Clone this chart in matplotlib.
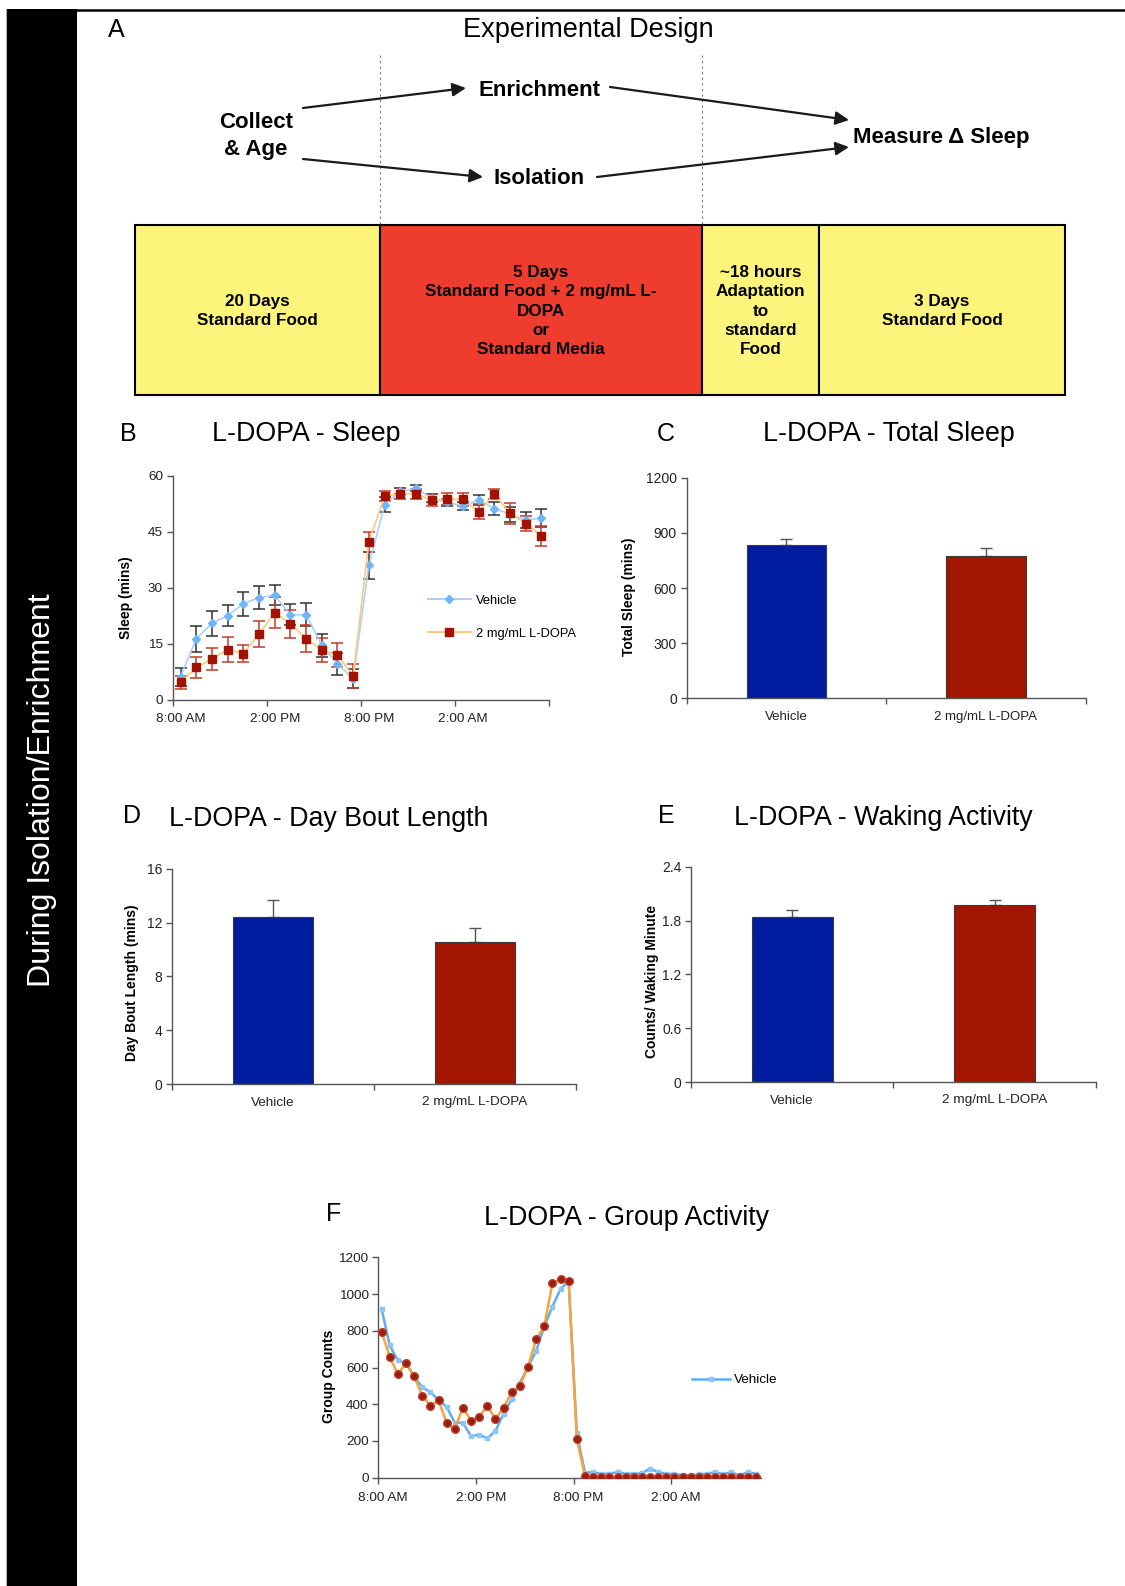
import numpy as np
import matplotlib
matplotlib.use('Agg')
import matplotlib.pyplot as plt
from matplotlib.patches import Rectangle
from matplotlib.lines import Line2D
from matplotlib.transforms import ScaledTranslation

plt.rcParams['font.family'] = ['Liberation Sans', 'DejaVu Sans']

W, H = 1125, 1586  # figure size in pixels

# ---- Panel A: experimental design ----
stage_labels = ['20 Days\nStandard Food',
                '5 Days\nStandard Food + 2 mg/mL L-\nDOPA\nor\nStandard Media',
                '~18 hours\nAdaptation\nto\nstandard\nFood',
                '3 Days\nStandard Food']
stage_colors = ['#fdf57b', '#ee3d2f', '#fdf57b', '#fdf57b']

# ---- Panel B: sleep per hour (mins) ----
time_labels = ['8:00 AM', '2:00 PM', '8:00 PM', '2:00 AM']
sleep_vehicle = [6.2, 16.4, 20.5, 22.6, 25.7, 27.4, 28.0, 22.8, 22.8, 14.6, 9.7, 5.7,
                 36.0, 52.2, 55.8, 56.6, 54.0, 52.9, 51.9, 53.5, 51.2, 49.7, 48.1, 48.7]
sleep_vehicle_err = [2.4, 3.5, 3.4, 2.9, 3.1, 3.1, 2.7, 2.8, 3.1, 3.0, 2.9, 2.5,
                     3.7, 2.0, 0.8, 0.8, 1.0, 1.0, 1.0, 1.4, 1.8, 2.0, 2.2, 2.4]
sleep_ldopa = [4.7, 8.7, 11.0, 13.5, 12.4, 17.6, 23.4, 20.4, 16.4, 13.4, 12.0, 6.4,
               42.3, 54.5, 55.2, 55.2, 53.5, 53.7, 53.7, 50.3, 55.1, 49.9, 47.2, 43.9]
sleep_ldopa_err = [1.8, 2.9, 3.0, 3.4, 2.3, 3.5, 4.1, 3.7, 3.6, 3.3, 3.2, 3.1,
                   2.7, 1.3, 1.5, 1.3, 1.6, 1.6, 1.7, 2.0, 1.4, 2.7, 1.9, 2.6]

# ---- Panels C, D, E: group means ----
groups = ['Vehicle', '2 mg/mL L-DOPA']
total_sleep = [834, 776]
total_sleep_err = [34, 42]
bout_length = [12.41, 10.58]
bout_length_err = [1.26, 0.99]
waking_activity = [1.84, 1.97]
waking_activity_err = [0.074, 0.063]

# ---- Panel F: group activity, half-hour bins ----
group_vehicle = [921, 720, 639, 624, 552, 492, 467, 422, 386, 299, 299, 226, 235, 214, 255,
                 349, 427, 516, 603, 690, 824, 932, 1028, 1068, 241,
                 28, 30, 22, 22, 30, 22, 22, 24, 50, 30, 22, 20, 14, 12, 18, 22, 30, 20,
                 30, 12, 30, 22]
group_ldopa = [796, 659, 563, 624, 552, 447, 393, 422, 299, 266, 382, 310, 331, 391, 319,
               382, 467, 500, 603, 753, 825, 1059, 1081, 1070, 212,
               8, 4, 3, 2, 3, 2, 3, 4, 2, 3, 3, 2, 2, 3, 2, 3, 4, 2, 3, 2, 3, 2]

BLUE = '#001c9f'
RED = '#a21500'

fig = plt.figure(figsize=(W / 100, H / 100), dpi=100)

# overlay in pixel coordinates for the schematic and free text
ov = fig.add_axes([0, 0, 1, 1], zorder=-1)
ov.set_xlim(0, W)
ov.set_ylim(H, 0)
ov.axis('off')


def axes_px(left, top, right, bottom):
    return fig.add_axes([left / W, 1 - bottom / H, (right - left) / W, (bottom - top) / H])


def style(ax, tick_size):
    for s in ['top', 'right']:
        ax.spines[s].set_visible(False)
    for s in ['left', 'bottom']:
        ax.spines[s].set_color('#555555')
        ax.spines[s].set_linewidth(1)
    ax.tick_params(which='both', direction='out', length=4, width=1, color='#555555',
                   labelsize=tick_size, labelcolor='#222222', pad=3)


def ylabel_px(ax, text, cx, cy):
    ax.set_ylabel(text, fontsize=10, fontweight='bold', va='center')
    bb = ax.get_position()
    ax.yaxis.set_label_coords((cx / W - bb.x0) / bb.width, ((1 - cy / H) - bb.y0) / bb.height)


def shift_xlabels(ax, px):
    off = ScaledTranslation(px / 100, 0, fig.dpi_scale_trans)
    for lbl in ax.get_xticklabels():
        lbl.set_transform(lbl.get_transform() + off)


def bar_panel(ax, vals, errs, ymax, step, ytick_size, xtick_size):
    ax.bar([0, 1], vals, width=0.4, color=[BLUE, RED], edgecolor='#3a3a3a', linewidth=0.8, zorder=2)
    ax.errorbar([0, 1], vals, yerr=[[0, 0], errs], fmt='none', ecolor='#555555',
                elinewidth=1, capsize=4.3, capthick=1, zorder=1)
    style(ax, ytick_size)
    ax.set_xlim(-0.5, 1.5)
    ax.set_ylim(0, ymax)
    ax.set_yticks(np.arange(0, ymax + step / 2, step))
    ax.set_xticks([-0.5, 0.5, 1.5])
    ax.set_xticklabels([])
    ax.set_xticks([0, 1], minor=True)
    ax.set_xticklabels(groups, minor=True)
    ax.tick_params(axis='x', which='minor', length=0, labelsize=xtick_size, pad=9)


# ---- left banner ----
ov.add_patch(Rectangle((7, 9), 70, H - 9, fc='black', ec='none'))
ov.plot([6, 6], [9, H], color='#aaaaaa', lw=0.8)
ov.plot([77, W], [9.5, 9.5], color='black', lw=1.8)
ov.text(42, 790, 'During Isolation/Enrichment', color='white', fontsize=23,
        rotation=90, ha='center', va='center')

# ---- Panel A ----
ov.text(116, 30, 'A', fontsize=18, ha='center', va='center')
ov.text(588, 30, 'Experimental Design', fontsize=19.5, ha='center', va='center')

for x in [380, 702]:
    ov.plot([x, x], [55, 225], color='#777777', lw=0.8, ls=(0, (2, 3)))

edges = [135, 380, 702, 819, 1065]
for i, (lab, col) in enumerate(zip(stage_labels, stage_colors)):
    ov.add_patch(Rectangle((edges[i], 225), edges[i + 1] - edges[i], 170,
                           fc=col, ec='black', lw=1.5))
    ov.text((edges[i] + edges[i + 1]) / 2, 311, lab, fontsize=12.3, fontweight='bold',
            ha='center', va='center', linespacing=1.35)

ov.text(256, 136, 'Collect\n& Age', fontsize=16, fontweight='bold', ha='center', va='center',
        linespacing=1.35)
ov.text(539, 91, 'Enrichment', fontsize=16, fontweight='bold', ha='center', va='center')
ov.text(539, 179, 'Isolation', fontsize=16, fontweight='bold', ha='center', va='center')
ov.text(941, 138, 'Measure \u0394 Sleep', fontsize=16, fontweight='bold', ha='center', va='center')

arrows = [((303, 108), (466, 88)), ((303, 159), (483, 177)),
          ((610, 87), (849, 120)), ((597, 177), (849, 147))]
for start, end in arrows:
    ov.annotate('', xy=end, xytext=start,
                arrowprops=dict(arrowstyle='-|>', color='#1a1a1a', lw=1.6,
                                mutation_scale=20, shrinkA=0, shrinkB=0))

# ---- Panel B ----
axB = axes_px(172.7, 475.7, 549.3, 700)
style(axB, 9.7)
x_b = np.arange(24) + 0.5
axB.errorbar(x_b, sleep_vehicle, yerr=sleep_vehicle_err, color='#a9d3fc', lw=1.2,
             marker='D', ms=4.5, mfc='#6fb5f7', mec='#6fb5f7', ecolor='#333333',
             elinewidth=1.1, capsize=4.3, capthick=1.1, zorder=3)
axB.errorbar(x_b, sleep_ldopa, yerr=sleep_ldopa_err, color='#ffc97e', lw=1.2,
             marker='s', ms=6, mfc='#a21200', mec='#a21200', ecolor='#c23a2a',
             elinewidth=1.1, capsize=4.3, capthick=1.1, zorder=3)
axB.set_xlim(0, 24)
axB.set_ylim(0, 60)
axB.set_yticks(range(0, 61, 15))
axB.set_xticks([0, 6, 12, 18, 24])
axB.set_xticklabels(time_labels + [''])
axB.tick_params(axis='x', pad=5)
shift_xlabels(axB, 8)
ylabel_px(axB, 'Sleep (mins)', 126, 598)
hB = [Line2D([], [], color='#a9d3fc', lw=1.5, marker='D', ms=4.5, mfc='#6fb5f7', mec='#6fb5f7'),
      Line2D([], [], color='#ffc97e', lw=1.5, marker='s', ms=6, mfc='#a21200', mec='#a21200')]
axB.legend(hB, groups, loc='upper left', bbox_to_anchor=(0.678, 0.47), frameon=False,
           fontsize=9.3, handlelength=3.3, handletextpad=0.4, labelspacing=1.65,
           borderpad=0, borderaxespad=0)
ov.text(128, 434, 'B', fontsize=18, ha='center', va='center')
ov.text(306, 434, 'L-DOPA - Sleep', fontsize=19.3, ha='center', va='center')

# ---- Panel C ----
axC = axes_px(686.7, 477.7, 1085.7, 698.3)
bar_panel(axC, total_sleep, total_sleep_err, 1200, 300, 10, 9.5)
ylabel_px(axC, 'Total Sleep (mins)', 629, 597)
ov.text(666, 434, 'C', fontsize=18, ha='center', va='center')
ov.text(889, 434, 'L-DOPA - Total Sleep', fontsize=19.3, ha='center', va='center')

# ---- Panel D ----
axD = axes_px(172.3, 868.7, 575.7, 1084)
bar_panel(axD, bout_length, bout_length_err, 16, 4, 10, 9.7)
ylabel_px(axD, 'Day Bout Length (mins)', 131.7, 983)
ov.text(132, 816, 'D', fontsize=18, ha='center', va='center')
ov.text(329, 819, 'L-DOPA - Day Bout Length', fontsize=19.3, ha='center', va='center')

# ---- Panel E ----
axE = axes_px(691, 866.7, 1095.7, 1082)
bar_panel(axE, waking_activity, waking_activity_err, 2.4, 0.6, 10, 9.7)
axE.set_yticklabels(['0', '0.6', '1.2', '1.8', '2.4'])
ylabel_px(axE, 'Counts/ Waking Minute', 651.7, 981.7)
ov.text(666, 816, 'E', fontsize=18, ha='center', va='center')
ov.text(883, 818, 'L-DOPA - Waking Activity', fontsize=19.3, ha='center', va='center')

# ---- Panel F ----
axF = axes_px(378.3, 1257.3, 760.7, 1477.7)
style(axF, 9.7)
x_f = np.arange(len(group_vehicle)) * 0.5 + 0.2
axF.plot(x_f, group_vehicle, color='#5eaef4', lw=1.8, marker='s', ms=2.8,
         mfc='#8cc6f7', mec='#8cc6f7', zorder=2)
axF.plot(x_f, group_ldopa, color='#f8a33c', lw=1.8, marker='o', ms=5.5,
         mfc='#9e1c0c', mec='#b8402a', zorder=3)
axF.set_xlim(0, 23.5)
axF.set_ylim(0, 1200)
axF.set_yticks(range(0, 1201, 200))
axF.set_xticks([0, 6, 12, 18])
axF.set_xticklabels(time_labels)
axF.tick_params(axis='x', pad=6)
shift_xlabels(axF, 5)
ylabel_px(axF, 'Group Counts', 329, 1376)
hF = [Line2D([], [], color='#5eaef4', lw=1.8, marker='s', ms=2.8, mfc='#8cc6f7', mec='#8cc6f7')]
axF.legend(hF, ['Vehicle'], loc='center left', bbox_to_anchor=(0.82, 0.443), frameon=False,
           fontsize=9.7, handlelength=2.8, handletextpad=0.3, borderpad=0, borderaxespad=0)
ov.text(334, 1214, 'F', fontsize=18, ha='center', va='center')
ov.text(626, 1218, 'L-DOPA - Group Activity', fontsize=19.3, ha='center', va='center')

fig.savefig('out.png', dpi=100)
